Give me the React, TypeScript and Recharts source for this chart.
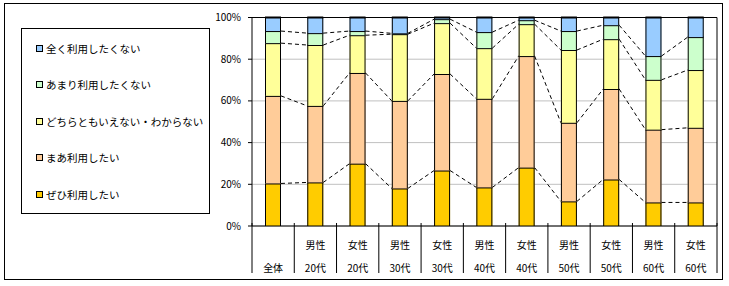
import React from 'react';
import { BarChart, Bar, XAxis, YAxis, CartesianGrid, Legend, ReferenceLine } from 'recharts';

// category axis: two rows (gender / age group)
const genders = ['', '男性', '女性', '男性', '女性', '男性', '女性', '男性', '女性', '男性', '女性'];
const ages = ['全体', '20代', '20代', '30代', '30代', '40代', '40代', '50代', '50代', '60代', '60代'];

// percentages, bottom to top
const zehi = [20.4, 20.9, 29.9, 18.0, 26.6, 18.5, 28.0, 11.8, 22.3, 11.3, 11.3];
const maa = [42.0, 36.7, 43.5, 42.0, 46.3, 42.5, 53.5, 37.7, 43.4, 34.9, 35.8];
const dochira = [25.3, 29.2, 18.1, 32.0, 24.4, 24.3, 15.3, 34.9, 23.9, 23.9, 27.7];
const amari = [5.8, 5.7, 2.0, 0.4, 1.9, 7.7, 1.9, 9.1, 6.7, 11.4, 15.8];
const mattaku = [6.5, 7.5, 6.5, 7.6, 0.8, 7.0, 1.3, 6.5, 3.7, 18.5, 9.4];

const yTicks = [0, 20, 40, 60, 80, 100];

const SERIES = [
  { key: 'zehi', name: 'ぜひ利用したい', color: '#FFCC00', values: zehi },
  { key: 'maa', name: 'まあ利用したい', color: '#FFCC99', values: maa },
  { key: 'dochira', name: 'どちらともいえない・わからない', color: '#FFFF99', values: dochira },
  { key: 'amari', name: 'あまり利用したくない', color: '#CCFFCC', values: amari },
  { key: 'mattaku', name: '全く利用したくない', color: '#99CCFF', values: mattaku },
];

const categories = ages.map((a, i) => genders[i] + a);

const data = categories.map((name, i) => {
  const row: Record<string, string | number> = { name };
  SERIES.forEach((s) => {
    row[s.key] = s.values[i];
  });
  return row;
});

// running totals, used for the dashed series lines
const cumulative = SERIES.map((_, k) =>
  categories.map((__, i) => SERIES.slice(0, k + 1).reduce((sum, s) => sum + s.values[i], 0))
);

const FONT = "'Noto Sans CJK JP', 'Noto Sans', sans-serif";
const CHART_W = 729;
const CHART_H = 286;
const MARGIN = { top: 17.5, right: 12, bottom: 10, left: 0 };
const Y_AXIS_W = 252;
const X_AXIS_H = 50;
const BAND = (CHART_W - MARGIN.left - Y_AXIS_W - MARGIN.right) / categories.length;

const makeSegmentShape = (k: number) => (props: any) => {
  const { x, y, width, height, fill, index } = props;
  if (x == null || y == null || !width) return null;
  const seg = SERIES[k].values[index];
  const tops = cumulative[k];
  const pxPerUnit = seg > 0 ? height / seg : 0;
  const drawLink = k < SERIES.length - 1 && index < categories.length - 1 && pxPerUnit > 0;
  const nextY = y + (tops[index] - (drawLink ? tops[index + 1] : 0)) * pxPerUnit;
  return (
    <g>
      <rect x={x} y={y} width={width} height={height} fill={fill} />
      <line x1={x + 0.5} x2={x + 0.5} y1={y} y2={y + height} stroke="#000" strokeWidth={1} />
      <line x1={x + width - 0.5} x2={x + width - 0.5} y1={y} y2={y + height} stroke="#000" strokeWidth={1} />
      <line x1={x} x2={x + width} y1={y} y2={y} stroke="#000" strokeWidth={2} />
      {drawLink && (
        <line
          x1={x + width}
          y1={y}
          x2={x + BAND}
          y2={nextY}
          stroke="#000"
          strokeWidth={1}
          strokeDasharray="4 3"
        />
      )}
    </g>
  );
};

const CategoryTick = (props: any) => {
  const { x, y, payload } = props;
  const i = payload.index;
  const half = payload.offset || BAND / 2;
  return (
    <g>
      <line x1={x - half} x2={x - half} y1={y - 3} y2={y + 47} stroke="#000" />
      {i === categories.length - 1 && (
        <line x1={x + half} x2={x + half} y1={y - 3} y2={y + 47} stroke="#000" />
      )}
      <text x={x} y={y + 18} textAnchor="middle" dominantBaseline="central" fontSize={10} fill="#000" fontFamily={FONT}>
        {genders[i]}
      </text>
      <text x={x} y={y + 41} textAnchor="middle" dominantBaseline="central" fontSize={10} fill="#000" fontFamily={FONT}>
        {ages[i]}
      </text>
    </g>
  );
};

const LegendBox = () => (
  <div
    style={{
      width: 189,
      height: 186,
      border: '1px solid #000',
      boxSizing: 'border-box',
      background: '#fff',
      position: 'relative',
      fontFamily: FONT,
      fontSize: 10.5,
    }}
  >
    {[...SERIES].reverse().map((s, j) => (
      <div
        key={s.key}
        style={{ position: 'absolute', left: 14, top: 12 + j * 36.5, height: 14, display: 'flex', alignItems: 'center', whiteSpace: 'nowrap' }}
      >
        <span style={{ width: 7, height: 7, border: '1px solid #000', background: s.color, boxSizing: 'border-box', marginRight: 3 }} />
        <span>{s.name}</span>
      </div>
    ))}
  </div>
);

export default function App() {
  return (
    <div style={{ position: 'absolute', left: 0, top: 0, width: CHART_W, height: CHART_H, background: '#fff' }}>
      <div
        style={{ position: 'absolute', left: 4, top: 3, width: 719, height: 277, border: '1px solid #000', boxSizing: 'border-box' }}
      />
      <div style={{ position: 'absolute', left: 0, top: 0 }}>
        <BarChart width={CHART_W} height={CHART_H} data={data} margin={MARGIN}>
          <CartesianGrid vertical={false} stroke="#c0c0c0" />
          <XAxis
            dataKey="name"
            height={X_AXIS_H}
            interval={0}
            tickLine={false}
            tickSize={0}
            tickMargin={0}
            axisLine={{ stroke: '#000' }}
            tick={<CategoryTick />}
          />
          <YAxis
            width={Y_AXIS_W}
            domain={[0, 100]}
            ticks={yTicks}
            interval={0}
            tickFormatter={(v) => `${v}%`}
            axisLine={{ stroke: '#000' }}
            tickLine={{ stroke: '#000' }}
            tickSize={4}
            tickMargin={7}
            tick={{ fill: '#000', fontSize: 10, fontFamily: FONT }}
          />
          {SERIES.map((s, k) => (
            <Bar
              key={s.key}
              dataKey={s.key}
              name={s.name}
              stackId="a"
              fill={s.color}
              barSize={16}
              isAnimationActive={false}
              shape={makeSegmentShape(k)}
            />
          ))}
          <ReferenceLine y={100} stroke="#000" />
          <ReferenceLine x={categories[categories.length - 1]} position="end" stroke="#000" />
          <Legend
            layout="vertical"
            align="center"
            verticalAlign="middle"
            wrapperStyle={{ left: 21, top: 28, width: 189, height: 186 }}
            content={<LegendBox />}
          />
        </BarChart>
      </div>
    </div>
  );
}
